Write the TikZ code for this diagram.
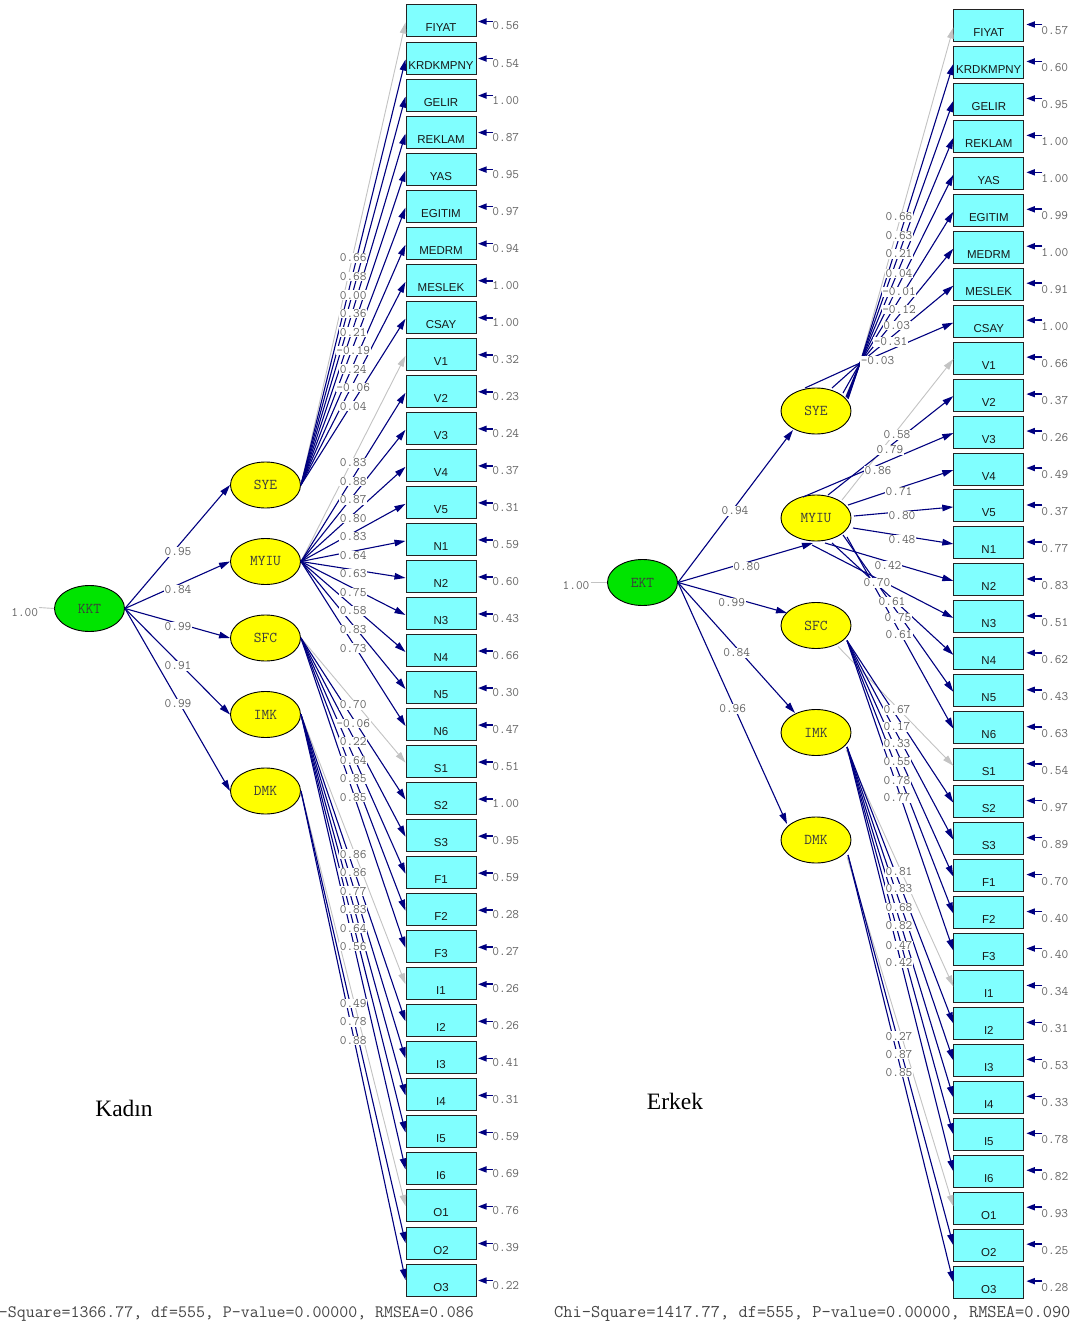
\documentclass[tikz,border=0pt]{standalone}
\usepackage{fontspec}
\setmainfont{Liberation Serif}
\setsansfont{Liberation Sans}
\usetikzlibrary{shapes.geometric,arrows.meta,calc}
\definecolor{navy}{RGB}{0,0,128}
\definecolor{fixgray}{RGB}{195,195,195}
\definecolor{boxfill}{RGB}{128,255,255}
\definecolor{boxline}{RGB}{35,35,35}
\definecolor{numgray}{RGB}{100,100,100}
\definecolor{latgreen}{RGB}{0,228,0}
\definecolor{latyellow}{RGB}{255,255,0}
\definecolor{lattext}{RGB}{60,60,60}
\definecolor{fitgray}{RGB}{70,70,70}
\tikzset{
  obsbox/.style={draw=boxline,line width=1pt,fill=boxfill,minimum width=70pt,minimum height=32pt,inner sep=0pt,text height=27pt,text depth=5pt,font={\fontsize{11.5}{13}\sffamily},text=black!90},
  latent/.style={ellipse,draw=black,line width=0.9pt,minimum width=70pt,minimum height=46pt,inner sep=0pt,font={\fontsize{15}{16}\ttfamily},text=lattext},
  loadpath/.style={draw=navy,line width=1.1pt,-{Triangle[length=11pt,width=6.5pt]}},
  fixpath/.style={draw=fixgray,line width=0.9pt,-{Triangle[length=11pt,width=6.5pt]}},
  errarr/.style={draw=navy,line width=1.6pt,-{Triangle[length=8.5pt,width=6pt]}},
  lbl/.style={fill=white,inner sep=0.6pt,font={\fontsize{13}{14}\ttfamily},text=numgray},
  errlbl/.style={inner sep=0pt,anchor=west,font={\fontsize{13}{14}\ttfamily},text=numgray},
  stub/.style={draw=fixgray,line width=0.9pt},
  grouplbl/.style={font={\fontsize{23.5}{25}\selectfont},text=black},
  fitlbl/.style={inner sep=0pt,text=fitgray},
}
\begin{document}
\begin{tikzpicture}[x=1pt,y=-1pt]
\useasboundingbox (0,0) rectangle (1078,1329);
\fill[white] (0,0) rectangle (1078,1329);

% observed variables
\foreach \n [count=\i from 0] in {FIYAT,KRDKMPNY,GELIR,REKLAM,YAS,EGITIM,MEDRM,MESLEK,CSAY,V1,V2,V3,V4,V5,N1,N2,N3,N4,N5,N6,S1,S2,S3,F1,F2,F3,I1,I2,I3,I4,I5,I6,O1,O2,O3}{
  \node[obsbox] (L\i) at (441,{21+37.03*\i}) {\n};
  \node[obsbox] (R\i) at (988.8,{25.5+36.96*\i}) {\n};
}

% latent variables
\node[latent,fill=latgreen] (lKKT) at (89.5,608.5) {KKT};
\node[latent,fill=latyellow] (lSYE) at (265.5,485) {SYE};
\node[latent,fill=latyellow] (lMYIU) at (265.5,561.5) {MYIU};
\node[latent,fill=latyellow] (lSFC) at (265.5,638) {SFC};
\node[latent,fill=latyellow] (lIMK) at (265.5,714.5) {IMK};
\node[latent,fill=latyellow] (lDMK) at (265.5,791) {DMK};

\node[latent,fill=latgreen] (rEKT) at (642.5,582.5) {EKT};
\node[latent,fill=latyellow] (rSYE) at (816,411) {SYE};
\node[latent,fill=latyellow] (rMYIU) at (816,518) {MYIU};
\node[latent,fill=latyellow] (rSFC) at (816,625.5) {SFC};
\node[latent,fill=latyellow] (rIMK) at (816,732.5) {IMK};
\node[latent,fill=latyellow] (rDMK) at (816,840) {DMK};

% error arrows and values
\foreach \e [count=\i from 0] in {0.56,0.54,1.00,0.87,0.95,0.97,0.94,1.00,1.00,0.32,0.23,0.24,0.37,0.31,0.59,0.60,0.43,0.66,0.30,0.47,0.51,1.00,0.95,0.59,0.28,0.27,0.26,0.26,0.41,0.31,0.59,0.69,0.76,0.39,0.22}{
  \coordinate (LE\i) at ($(L\i.east)+(16.5,0.5)$);
  \draw[errarr] (LE\i) -- ($(L\i.east)+(1.5,0.5)$);
  \node[errlbl] at ($(L\i.east)+(15.7,5)$) {\e};
}
\foreach \e [count=\i from 0] in {0.57,0.60,0.95,1.00,1.00,0.99,1.00,0.91,1.00,0.66,0.37,0.26,0.49,0.37,0.77,0.83,0.51,0.62,0.43,0.63,0.54,0.97,0.89,0.70,0.40,0.40,0.34,0.31,0.53,0.33,0.78,0.82,0.93,0.25,0.28}{
  \coordinate (RE\i) at ($(R\i.east)+(18,-1)$);
  \draw[errarr] (RE\i) -- ($(R\i.east)+(2,-1)$);
  \node[errlbl] at ($(R\i.east)+(16.9,5.5)$) {\e};
}

% ---------- left panel paths ----------
\coordinate (lfree) at (39,607.5);
\draw[stub] (lfree) -- (lKKT.west);
\foreach \t in {lSYE,lMYIU,lSFC,lIMK,lDMK} \draw[loadpath] (lKKT.east) -- (\t.west);

\draw[fixpath] (lSYE.east) -- ($(L0.west)+(0,1.5)$);
\foreach \i in {1,...,8} \draw[loadpath] (lSYE.east) -- ($(L\i.west)+(0,1.5)$);
\draw[fixpath] (lMYIU.east) -- ($(L9.west)+(0,1.5)$);
\foreach \i in {10,...,19} \draw[loadpath] (lMYIU.east) -- ($(L\i.west)+(0,1.5)$);
\draw[fixpath] (lSFC.east) -- ($(L20.west)+(0,1)$);
\foreach \i in {21,...,25} \draw[loadpath] (lSFC.east) -- ($(L\i.west)+(0,1)$);
\draw[fixpath] (lIMK.east) -- ($(L26.west)+(0,0.5)$);
\foreach \i in {27,...,31} \draw[loadpath] (lIMK.east) -- ($(L\i.west)+(0,0.5)$);
\draw[fixpath] (lDMK.east) -- ($(L32.west)+(0,0)$);
\foreach \i in {33,34} \draw[loadpath] (lDMK.east) -- ($(L\i.west)+(0,0)$);

% ---------- right panel paths ----------
\coordinate (rfree) at (590.5,582.5);
\draw[stub] (rfree) -- (rEKT.west);
\draw[loadpath] (rEKT.east) -- ($(rSYE)+(-23,19)$);
\draw[loadpath] (rEKT.east) -- ($(rMYIU)+(-3,25)$);
\draw[loadpath] (rEKT.east) -- ($(rSFC)+(-29,-12.5)$);
\draw[loadpath] (rEKT.east) -- ($(rIMK)+(-21,-19.5)$);
\draw[loadpath] (rEKT.east) -- ($(rDMK)+(-29,-16)$);

\coordinate (hub) at (860,363);
\draw[fixpath] ($(rSYE)+(30,-15)$) -- (hub) -- ($(R0.west)+(0,2)$);
\foreach \i/\dx/\dy in {1/31/-14,2/32/-13,3/32/-12,4/31/-13,5/27/-18,6/16/-23,7/-11/-23,8/30/-14}
  \draw[loadpath] ($(rSYE)+(\dx,\dy)$) -- (hub) -- ($(R\i.west)+(0,1.5)$);

\draw[fixpath] ($(rMYIU)+(26,-18)$) -- ($(R9.west)+(0,1)$);
\foreach \i/\dx/\dy in {10/12/-23,11/-13/-21,12/32/-13,13/38/-2,14/37/10,15/9/25,16/-4/27,17/16/25,18/27/17,19/31/19}
  \draw[loadpath] ($(rMYIU)+(\dx,\dy)$) -- ($(R\i.west)+(0,1)$);

\draw[fixpath] ($(rSFC)+(22,21)$) -- ($(R20.west)+(0,1)$);
\foreach \i in {21,...,25} \draw[loadpath] ($(rSFC)+(31,15)$) -- ($(R\i.west)+(0,1)$);
\draw[fixpath] ($(rIMK)+(30,17)$) -- ($(R26.west)+(0,0)$);
\foreach \i in {27,...,31} \draw[loadpath] ($(rIMK)+(31,14.5)$) -- ($(R\i.west)+(0,0)$);
\draw[fixpath] ($(rDMK)+(31,17)$) -- ($(R32.west)+(0,-2)$);
\foreach \i in {33,34} \draw[loadpath] ($(rDMK)+(32,15)$) -- ($(R\i.west)+(0,0)$);

% ---------- labels: left ----------
\node[inner sep=0pt,font={\fontsize{13}{14}\ttfamily},text=numgray] at (24.7,613) {1.00};
\foreach \v/\y in {0.95/552,0.84/590,0.99/627,0.91/666,0.99/704} \node[lbl] at (178,\y) {\v};
\foreach \i/\v in {0/0.66,1/0.68,2/0.00,3/0.36,4/0.21,5/-0.19,6/0.24,7/-0.06,8/0.04}
  \node[lbl] at ($(lSYE.east)!0.5!(L\i.west)+(0,5)$) {\v};
\foreach \i/\v in {9/0.83,10/0.88,11/0.87,12/0.80,13/0.83,14/0.64,15/0.63,16/0.75,17/0.58,18/0.83,19/0.73}
  \node[lbl] at ($(lMYIU.east)!0.5!(L\i.west)+(0,5)$) {\v};
\foreach \i/\v in {20/0.70,21/-0.06,22/0.22,23/0.64,24/0.85,25/0.85}
  \node[lbl] at ($(lSFC.east)!0.5!(L\i.west)+(0,5)$) {\v};
\foreach \i/\v in {26/0.86,27/0.86,28/0.77,29/0.83,30/0.64,31/0.56}
  \node[lbl] at ($(lIMK.east)!0.5!(L\i.west)+(0,5)$) {\v};
\foreach \i/\v in {32/0.49,33/0.78,34/0.88}
  \node[lbl] at ($(lDMK.east)!0.5!(L\i.west)+(0,5)$) {\v};

% ---------- labels: right ----------
\node[inner sep=0pt,font={\fontsize{13}{14}\ttfamily},text=numgray] at (576,586) {1.00};
\foreach \v/\x/\y in {0.94/735/511,0.80/746.7/567,0.99/731.7/603,0.84/736.7/653,0.96/732.7/709}
  \node[lbl] at (\x,\y) {\v};
\foreach \v/\x/\y in {0.66/899/217,0.63/899/236,0.21/899/254,0.04/899/273.5,-0.01/899/292,-0.12/899/309.7,0.03/896.7/325.7,-0.31/890.5/342,-0.03/877.5/361}
  \node[lbl] at (\x,\y) {\v};
\foreach \v/\x/\y in {0.58/897/435,0.79/890/450,0.86/878/471,0.71/899/492,0.80/902/516,0.48/902/540,0.42/888/566,0.70/877/583,0.61/892/602,0.75/898/618,0.61/899/635}
  \node[lbl] at (\x,\y) {\v};
\foreach \v/\y in {0.67/710,0.17/727,0.33/744,0.55/762,0.78/781,0.77/798}
  \node[lbl] at (897,\y) {\v};
\foreach \v/\y in {0.81/872,0.83/889,0.68/908,0.82/926,0.47/945.7,0.42/963}
  \node[lbl] at (899,\y) {\v};
\foreach \v/\y in {0.27/1036,0.87/1054,0.85/1072.7}
  \node[lbl] at (899,\y) {\v};

% ---------- group titles and fit statistics ----------
\node[grouplbl] (kadin) at (124,1108) {Kadın};
\node[grouplbl] (erkek) at (675,1101) {Erkek};
\node[fitlbl,anchor=east,font={\fontsize{17.4}{18}\ttfamily}] (fitL) at (474,1314) {-Square=1366.77, df=555, P-value=0.00000, RMSEA=0.086};
\node[fitlbl,anchor=west,font={\fontsize{17.9}{18}\ttfamily}] (fitR) at (554,1314) {Chi-Square=1417.77, df=555, P-value=0.00000, RMSEA=0.090};
\end{tikzpicture}
\end{document}
